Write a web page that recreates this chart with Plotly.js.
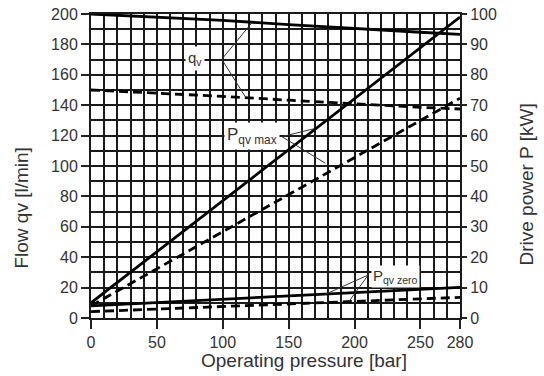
<!DOCTYPE html>
<html>
<head>
<meta charset="utf-8">
<script src="https://cdn.plot.ly/plotly-3.0.1.min.js"></script>
<style>html,body{margin:0;padding:0;background:#fff;}#chart{width:544px;height:376px;}</style>
</head>
<body>
<div id="chart"></div>
<script>
// Operating pressure [bar]
var pressure = [0, 50, 100, 150, 200, 250, 280];
// Flow qv [l/min] – solid and dashed curves
var qvSolid  = [200, 198, 195.8, 193, 190.3, 188, 186.6];
var qvDashed = [150, 148, 145.8, 143.3, 140.8, 138.6, 137.5];
// Drive power P [kW] – straight lines, read at both ends
var pressureEnds   = [0, 280];
var pQvMaxSolid    = [5, 99];
var pQvMaxDashed   = [4, 72.3];
var pQvZeroSolid   = [4, 10.1];
var pQvZeroDashed  = [2.1, 6.8];
// Tick labels
var xTicks = [0, 50, 100, 150, 200, 250, 280];

var black = '#1a1a1a';
var gridW = 2;
var txt = '#333';
var font = 'Liberation Sans, Arial, sans-serif';

function tr(x, y, dash, axis) {
  return {x: x, y: y, type: 'scatter', mode: 'lines', yaxis: axis,
    line: {color: '#000', width: 2.8, dash: dash}, hoverinfo: 'skip', showlegend: false};
}
var data = [
  tr(pressure, qvSolid, 'solid', 'y'),
  tr(pressure, qvDashed, '9px,5px', 'y'),
  tr(pressureEnds, pQvMaxSolid, 'solid', 'y2'),
  tr(pressureEnds, pQvMaxDashed, '9px,5px', 'y2'),
  tr(pressureEnds, pQvZeroSolid, 'solid', 'y2'),
  tr(pressureEnds, pQvZeroDashed, '9px,5px', 'y2')
];

function leader(x0, y0, x1, y1) {
  return {type: 'line', xref: 'x', yref: 'y', x0: x0, y0: y0, x1: x1, y1: y1,
    line: {color: '#333', width: 1}};
}

var layout = {
  width: 544, height: 376,
  margin: {l: 91, r: 84, t: 14, b: 58},
  paper_bgcolor: '#fff', plot_bgcolor: '#fff',
  font: {family: font, color: txt},
  showlegend: false,
  xaxis: {
    range: [0, 280], tickmode: 'array', tickvals: xTicks, ticktext: xTicks.map(String),
    ticks: 'outside', ticklen: 9, tickwidth: 2, tickcolor: '#222',
    showgrid: true, gridcolor: black, gridwidth: gridW,
    minor: {tick0: 0, dtick: 10, showgrid: true, gridcolor: black, gridwidth: gridW, ticks: ''},
    showline: true, linecolor: black, linewidth: 2, mirror: true, zeroline: false,
    tickfont: {size: 16, color: txt, family: font}, fixedrange: true
  },
  yaxis: {
    range: [0, 200], tick0: 0, dtick: 20,
    ticks: 'outside', ticklen: 8, tickwidth: 2, tickcolor: '#222',
    showgrid: true, gridcolor: black, gridwidth: gridW,
    minor: {tick0: 0, dtick: 10, showgrid: true, gridcolor: black, gridwidth: gridW, ticks: ''},
    showline: true, linecolor: black, linewidth: 2, mirror: true, zeroline: false,
    tickfont: {size: 16, color: txt, family: font}, fixedrange: true
  },
  yaxis2: {
    overlaying: 'y', side: 'right', range: [0, 100], tick0: 0, dtick: 10,
    ticks: 'outside', ticklen: 6, tickwidth: 2, tickcolor: '#222',
    showgrid: false, zeroline: false, showline: false,
    tickfont: {size: 16, color: txt, family: font}, fixedrange: true
  },
  shapes: [
    leader(99.2, 170.2, 122.4, 194.6),
    leader(99.2, 170.2, 117.4, 145.2),
    leader(144.9, 119.3, 169, 124.5),
    leader(144.9, 119.3, 177.8, 101.8),
    leader(210.4, 28.3, 177.8, 15.6),
    leader(210.4, 28.3, 195.5, 10.6)
  ],
  annotations: [
    {text: 'q<sub>v</sub>', x: 79, y: 171, xref: 'x', yref: 'y', showarrow: false,
      bgcolor: '#fff', font: {size: 15, color: txt}, borderpad: 2},
    {text: 'P<sub>qv max</sub>', x: 122.5, y: 119.5, xref: 'x', yref: 'y', showarrow: false,
      bgcolor: '#fff', font: {size: 17, color: txt}, borderpad: 2},
    {text: 'P<sub>qv zero</sub>', x: 230.7, y: 27, xref: 'x', yref: 'y', showarrow: false,
      bgcolor: '#fff', font: {size: 15, color: txt}, borderpad: 1},
    {text: 'Operating pressure [bar]', xref: 'paper', yref: 'paper', x: 0.576, y: -0.14,
      xanchor: 'center', yanchor: 'middle', showarrow: false, font: {size: 19, color: txt}},
    {text: 'Flow qv [l/min]', xref: 'paper', yref: 'paper', x: -0.188, y: 0.362, textangle: -90,
      xanchor: 'center', yanchor: 'middle', showarrow: false, font: {size: 19, color: txt}},
    {text: 'Drive power P [kW]', xref: 'paper', yref: 'paper', x: 1.1816, y: 0.439, textangle: -90,
      xanchor: 'center', yanchor: 'middle', showarrow: false, font: {size: 19, color: txt}}
  ]
};

Plotly.newPlot('chart', data, layout, {staticPlot: true, displayModeBar: false});
</script>
</body>
</html>
